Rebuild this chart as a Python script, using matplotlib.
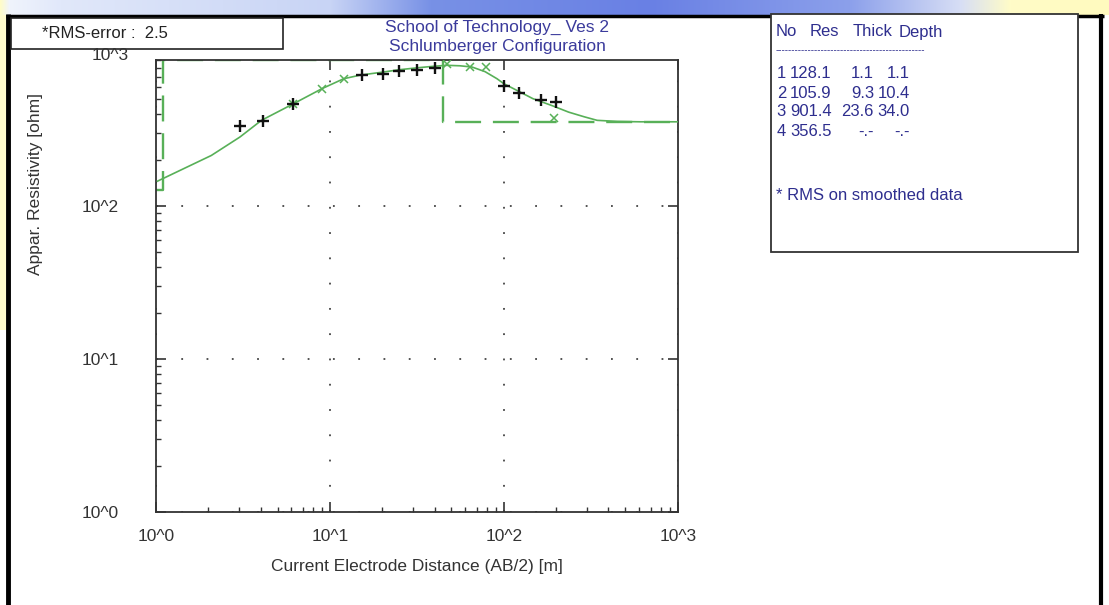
import numpy as np
import matplotlib
matplotlib.use("Agg")
import matplotlib.pyplot as plt
from matplotlib.patches import Rectangle
from matplotlib.ticker import LogLocator, NullFormatter, FixedLocator, FixedFormatter

# ---------------- data ----------------
# calculated apparent-resistivity curve
curve_ab2 = [1.02, 2.08, 3.04, 4.04, 6.18, 9.0, 12.0, 15.0, 20.2, 25.0, 32.4, 40.0, 47.1,
             56.0, 65.6, 78.0, 91.4, 100, 120, 147, 190, 236, 290, 344, 450, 607, 1000]
curve_rho = [146, 215, 284, 365, 469, 588, 683, 722, 755, 782, 807, 825, 836,
             830, 815, 760, 683, 634, 570, 506, 455, 413, 385, 365, 359, 357, 357]

# field data (+)
field_ab2 = [3.04, 4.1, 6.1, 15.2, 20.2, 25.0, 31.6, 40.0, 100, 122, 163, 200]
field_rho = [333, 361, 469, 718, 736, 762, 782, 801, 608, 550, 498, 481]

# smoothed data (x)
smooth_ab2 = [6.1, 9.0, 12.0, 47, 64, 79.5, 195]
smooth_rho = [469, 588, 683, 850, 815, 815, 380]

# layered model as drawn (dashed)
model_bounds = [1.1, 45.0]
model_rho = [128.1, 901.4, 356.5]

# table
layer_no = [1, 2, 3, 4]
layer_res = ["128.1", "105.9", "901.4", "356.5"]
layer_thick = ["1.1", "9.3", "23.6", "-.-"]
layer_depth = ["1.1", "10.4", "34.0", "-.-"]

x_ticks = [1, 10, 100, 1000]
x_ticklabels = ["10^0", "10^1", "10^2", "10^3"]
y_ticks = [1, 10, 100]
y_ticklabels = ["10^0", "10^1", "10^2"]
y_top_label = "10^3"

rms_text = "*RMS-error :  2.5"
title_lines = ["School of Technology_ Ves 2", "Schlumberger Configuration"]
x_label = "Current Electrode Distance (AB/2) [m]"
y_label = "Appar. Resistivity [ohm]"

# ---------------- figure ----------------
plt.rcParams['font.family'] = ['Liberation Sans', 'DejaVu Sans']
W, H = 1109, 605
fig = plt.figure(figsize=(W / 100, H / 100), dpi=100)
fig.patch.set_facecolor('white')


def fx(px):
    return px / W


def fy(py):
    return 1 - py / H


# background decorations (slide frame)
bg = fig.add_axes([0, 0, 1, 1], zorder=-10)
xs_anchor = [0, 9, 60, 330, 430, 650, 850, 960, 1010, 1109]
cols = np.array([[255, 252, 200], [240, 244, 252], [225, 232, 250], [200, 212, 245],
                 [120, 145, 230], [105, 128, 228], [140, 160, 235], [215, 222, 245],
                 [255, 252, 200], [255, 250, 190]]) / 255.0
gx = np.arange(W)
img = np.stack([np.interp(gx, xs_anchor, cols[:, k]) for k in range(3)], axis=-1)[None, :, :]
bg.imshow(img, extent=(0, W, 15, 0), aspect='auto', zorder=0)
bg.add_patch(Rectangle((0, 15), 6, 315, facecolor='#fffbcc', edgecolor='none', zorder=1))
bg.plot([8, 8], [14, H], color='black', lw=3.5, zorder=2, solid_capstyle='butt')
bg.plot([6, 1104], [15.5, 15.5], color='black', lw=2.5, zorder=2, solid_capstyle='butt')
bg.plot([1101, 1101], [14, H], color='black', lw=3.0, zorder=2, solid_capstyle='butt')
bg.set_xlim(0, W)
bg.set_ylim(H, 0)
bg.axis('off')

# RMS box
bg.add_patch(Rectangle((11, 17.5), 272, 31, facecolor='white', edgecolor='#222222', lw=1.2, zorder=3))
bg.text(42, 33, rms_text, fontsize=12, color='#222222', va='center', ha='left', zorder=4)

# title
title_color = '#3b3b9c'
bg.text(497, 27, title_lines[0], fontsize=12.5, color=title_color, ha='center', va='center')
bg.text(497, 46, title_lines[1], fontsize=12.5, color=title_color, ha='center', va='center')

# table box
tcol = '#2e2e8e'
bg.add_patch(Rectangle((771, 14), 307, 238, facecolor='white', edgecolor='#333333', lw=1.3, zorder=3))
hdr_y = 32
bg.text(776, hdr_y, "No", fontsize=12, color=tcol, va='center', ha='left', zorder=4)
bg.text(810, hdr_y, "Res", fontsize=12, color=tcol, va='center', ha='left', zorder=4)
bg.text(853, hdr_y, "Thick", fontsize=12, color=tcol, va='center', ha='left', zorder=4)
bg.text(899, hdr_y, "Depth", fontsize=12, color=tcol, va='center', ha='left', zorder=4)
bg.text(776, 50, "-" * 46, fontsize=7, color=tcol, va='center', ha='left', zorder=4)
row_y = [74, 93, 112, 131]
for i in range(len(layer_no)):
    y = row_y[i]
    bg.text(786, y, str(layer_no[i]), fontsize=12, color=tcol, va='center', ha='right', zorder=4)
    bg.text(790, y, layer_res[i], fontsize=12, color=tcol, va='center', ha='left', zorder=4)
    bg.text(874, y, layer_thick[i], fontsize=12, color=tcol, va='center', ha='right', zorder=4)
    bg.text(910, y, layer_depth[i], fontsize=12, color=tcol, va='center', ha='right', zorder=4)
bg.text(776, 196, "* RMS on smoothed data", fontsize=12, color=tcol, va='center', ha='left', zorder=4)

# ---------------- main axes ----------------
ax_left, ax_right, ax_top, ax_bottom = 156, 677.7, 60, 512
ax = fig.add_axes([fx(ax_left), fy(ax_bottom), (ax_right - ax_left) / W, (ax_bottom - ax_top) / H])
ax.set_xscale('log')
ax.set_yscale('log')
ax.set_xlim(1, 1000)
ax.set_ylim(1, 10 ** 2.957)

green = '#58b058'
# model (dashed step)
mx = [1.0]
my = [model_rho[0]]
for b, r0, r1 in zip(model_bounds, model_rho[:-1], model_rho[1:]):
    mx += [b, b]
    my += [r0, r1]
mx.append(1000)
my.append(model_rho[-1])
ax.plot(mx, my, color=green, lw=1.7, linestyle=(0, (11, 5)), zorder=2)

# calculated curve
ax.plot(curve_ab2, curve_rho, color=green, lw=1.2, zorder=4)
# smoothed data
ax.plot(smooth_ab2, smooth_rho, linestyle='none', marker='x', ms=6, mew=1.1, color=green, zorder=5)
# field data
ax.plot(field_ab2, field_rho, linestyle='none', marker='+', ms=9, mew=1.7, color='#111111', zorder=6)

# grid
ax.grid(True, which='major', color='#444444', linestyle=(0, (1, 13)), lw=1.3)

# ticks
ax.xaxis.set_major_locator(FixedLocator(x_ticks))
ax.xaxis.set_major_formatter(FixedFormatter(x_ticklabels))
ax.yaxis.set_major_locator(FixedLocator(y_ticks))
ax.yaxis.set_major_formatter(FixedFormatter(y_ticklabels))
ax.xaxis.set_minor_locator(LogLocator(base=10, subs=np.arange(2, 10)))
ax.yaxis.set_minor_locator(LogLocator(base=10, subs=np.arange(2, 10)))
ax.xaxis.set_minor_formatter(NullFormatter())
ax.yaxis.set_minor_formatter(NullFormatter())
ax.tick_params(which='major', direction='in', length=7, width=1.2, top=True, right=True,
               labelsize=12.5, labelcolor='#333333', color='#333333')
ax.tick_params(which='minor', direction='in', length=3.5, width=1.0, top=False, right=False,
               color='#333333')
ax.tick_params(axis='y', which='major', pad=27)
ax.tick_params(axis='x', which='major', pad=12)

# the 10^3 label sits just above the top of the plotting area
ax.text(-0.052, (ax_bottom - 56) / (ax_bottom - ax_top), y_top_label, transform=ax.transAxes,
        fontsize=12.5, color='#333333', ha='right', va='center', clip_on=False)

for s in ax.spines.values():
    s.set_color('#333333')
    s.set_linewidth(1.3)

ax.set_xlabel(x_label, fontsize=12.5, color='#333333')
ax.xaxis.set_label_coords(0.5, (ax_bottom - 567) / (ax_bottom - ax_top))
ax.xaxis.label.set_va('center')
ax.set_ylabel(y_label, fontsize=12.5, color='#333333')
ax.yaxis.set_label_coords((36 - ax_left) / (ax_right - ax_left), (ax_bottom - 184) / (ax_bottom - ax_top))
ax.yaxis.label.set_va('center')

fig.savefig('out.png', dpi=100)
